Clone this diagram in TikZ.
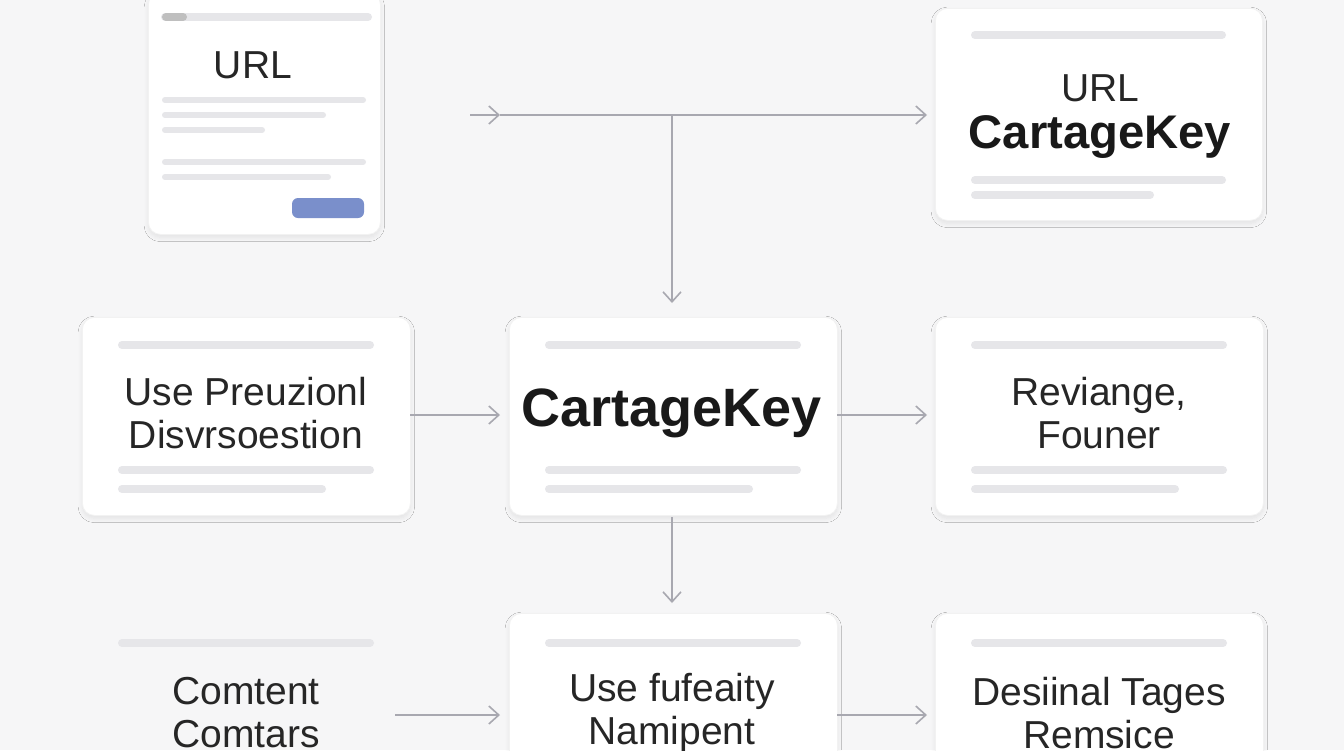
\documentclass[tikz,border=0pt]{standalone}
\usepackage{fontspec}
\setmainfont{Liberation Sans}
\usetikzlibrary{arrows.meta,shadows.blur}
\definecolor{bg}{HTML}{F6F6F7}
\definecolor{bar}{HTML}{E6E6E9}
\definecolor{arr}{HTML}{A8A8B0}
\definecolor{btn}{HTML}{7A8FCB}
\begin{document}
\begin{tikzpicture}[x=0.5pt,y=-0.5pt,
  card/.style={fill=white,draw=black!5,rounded corners=6pt,blur shadow={shadow blur steps=10,shadow blur extra rounding=3pt,shadow xshift=0pt,shadow yshift=-1.5pt,shadow opacity=8}},
  bar/.style={line width=4pt,draw=bar,line cap=round},
  txt/.style={font=\fontsize{19.5}{21.5}\selectfont,align=center,text=black!85},
  big/.style={font=\bfseries\fontsize{27}{30}\selectfont,text=black!90},
  con/.style={draw=arr,line width=0.8pt,-{Straight Barb[length=5pt,width=9pt]}}]
\fill[bg] (0,0) rectangle (1344,750);
\useasboundingbox (0,0) rectangle (1344,750);
% top-left
\node[card,minimum width=116pt,minimum height=121pt,anchor=north west] (tl) at (148,-8) {};
\draw[bar] (165,17) -- (368,17); \draw[line width=4pt,draw=black!25,line cap=round] (166,17) -- (183,17);
\node[txt,font=\fontsize{19.5}{21}\selectfont] (tlt) at (253,65) {URL};
\foreach \y/\e in {100/363,115/323,130/262,162/363,177/328} \draw[bar,line width=3pt] (165,\y) -- (\e,\y);
\fill[btn,rounded corners=3pt] (292,198) rectangle (364,218);
% top-right
\node[card,minimum width=163.5pt,minimum height=106pt,anchor=north west] (tr) at (935,8) {};
\draw[bar] (975,35) -- (1222,35);
\node[txt] at (1100,88) {URL};
\node[big,font=\bfseries\fontsize{23.6}{26}\selectfont] (trt) at (1100,137) {CartageKey};
\draw[bar] (975,180) -- (1222,180); \draw[bar] (975,195) -- (1150,195);
% middle row
\foreach \n/\x in {ml/82,mc/509,mr/935}{
  \node[card,minimum width=164pt,minimum height=99pt,anchor=north west] (\n) at (\x,317) {};
  \draw[bar] (\x+40,345) -- (\x+288,345);
  \draw[bar] (\x+40,470) -- (\x+288,470);
  \draw[bar] (\x+40,489) -- (\x+240,489);
}
\node[txt] at (246,413) {Use Preuzionl\\Disvrsoestion};
\node[big] at (672,413) {CartageKey};
\node[txt] at (1099,413) {Reviange,\\Founer};
% bottom row
\draw[bar] (122,643) -- (370,643);
\node[txt] at (246,713) {Comtent\\Comtars};
\foreach \n/\x in {bc/509,br/935}{
  \node[card,minimum width=164pt,minimum height=80pt,anchor=north west] (\n) at (\x,613) {};
  \draw[bar] (\x+40,643) -- (\x+288,643);
}
\node[txt] at (672,713) {Use fufeaity\\Namipent};
\node[txt] at (1099,713) {Desiinal Tages\\Remsice};
% connectors
\coordinate (a0) at (470,115); \coordinate (a1) at (500,115); \coordinate (a2) at (927,115);
\coordinate (j) at (672,115); \coordinate (d) at (672,303);
\draw[con] (a0) -- (a1); \draw[con] (a1) -- (a2); \draw[con] (j) -- (d);
\coordinate (m0) at (410,415); \coordinate (m1) at (500,415);
\coordinate (m2) at (837,415); \coordinate (m3) at (927,415);
\draw[con] (m0) -- (m1); \draw[con] (m2) -- (m3);
\coordinate (v0) at (672,517); \coordinate (v1) at (672,603);
\draw[con] (v0) -- (v1);
\coordinate (b0) at (395,715); \coordinate (b1) at (500,715);
\coordinate (b2) at (837,715); \coordinate (b3) at (927,715);
\draw[con] (b0) -- (b1); \draw[con] (b2) -- (b3);
\end{tikzpicture}
\end{document}
